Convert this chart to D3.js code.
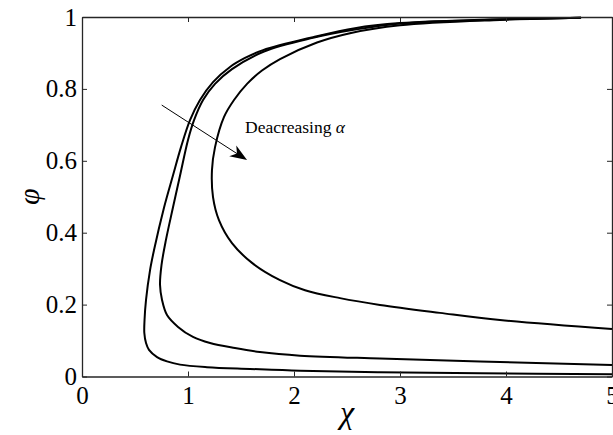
<!DOCTYPE html>
<html>
<head>
<meta charset="utf-8">
<script src="https://cdn.jsdelivr.net/npm/d3@7"></script>
<style>
  html, body { margin: 0; padding: 0; background: #fff; }
  svg { display: block; }
  text { font-family: "Liberation Serif", "DejaVu Serif", serif; fill: #000; }
</style>
</head>
<body>
<svg id="chart" width="613" height="435"></svg>
<script>
// Phase boundaries: [chi, phi] pairs
const curveOuter = [
  [4.708, 0.998], [3.943, 0.994], [3.000, 0.983], [2.575, 0.969], [2.179, 0.944],
  [1.708, 0.908], [1.538, 0.886], [1.396, 0.861], [1.236, 0.819], [1.113, 0.769],
  [1.019, 0.713], [0.934, 0.638], [0.858, 0.559], [0.774, 0.470], [0.679, 0.351],
  [0.642, 0.296], [0.604, 0.213], [0.590, 0.157], [0.588, 0.121], [0.604, 0.093],
  [0.632, 0.074], [0.708, 0.054], [0.802, 0.042], [0.925, 0.033], [1.179, 0.026],
  [1.585, 0.021], [2.057, 0.016], [2.811, 0.012], [3.755, 0.009], [5.000, 0.0064]
];
const curveMiddle = [
  [4.708, 0.998], [3.943, 0.993], [3.000, 0.982], [2.575, 0.965], [2.179, 0.942],
  [1.717, 0.904], [1.415, 0.855], [1.255, 0.814], [1.142, 0.769], [1.057, 0.713],
  [1.000, 0.658], [0.925, 0.559], [0.858, 0.470], [0.792, 0.380], [0.750, 0.310],
  [0.736, 0.255], [0.755, 0.213], [0.802, 0.171], [0.906, 0.138], [1.047, 0.110],
  [1.208, 0.093], [1.443, 0.079], [1.679, 0.068], [2.057, 0.058], [2.811, 0.050],
  [3.755, 0.042], [5.000, 0.032]
];
const curveInner = [
  [4.708, 0.998], [3.943, 0.992], [3.000, 0.977], [2.528, 0.955], [2.217, 0.929],
  [1.868, 0.883], [1.698, 0.851], [1.557, 0.814], [1.434, 0.769], [1.340, 0.722],
  [1.255, 0.638], [1.226, 0.574], [1.236, 0.499], [1.292, 0.435], [1.415, 0.371],
  [1.604, 0.316], [1.868, 0.268], [2.104, 0.240], [2.434, 0.218], [2.811, 0.199],
  [3.377, 0.177], [3.943, 0.157], [5.000, 0.132]
];
const curves = [curveOuter, curveMiddle, curveInner];

const xTicks = [0, 1, 2, 3, 4, 5];
const yTicks = [0, 0.2, 0.4, 0.6, 0.8, 1];
const yTickLabels = ["0", "0.2", "0.4", "0.6", "0.8", "1"];

// Annotation arrow: from -> to in data units
const arrowFrom = [0.752, 0.755];
const arrowTo = [1.557, 0.602];
const annotationText = "Deacreasing ";
const annotationSymbol = "α";

const margin = { left: 82, right: 1, top: 17, bottom: 58.5 };
const W = 613, H = 435;
const svg = d3.select("#chart");

const x = d3.scaleLinear().domain([0, 5]).range([margin.left, W - margin.right]);
const y = d3.scaleLinear().domain([0, 1]).range([H - margin.bottom, margin.top]);

const axisColor = "#262626";
const tickLen = 5;
const serif = "'Liberation Serif', 'DejaVu Serif', serif";

// Curves
const line = d3.line()
  .x(d => x(d[0]))
  .y(d => y(d[1]))
  .curve(d3.curveCatmullRom.alpha(0.5));

svg.append("g")
  .selectAll("path")
  .data(curves)
  .join("path")
  .attr("d", line)
  .attr("fill", "none")
  .attr("stroke", "#000")
  .attr("stroke-width", 2)
  .attr("stroke-linejoin", "round");

// Axes (box with inward ticks on all sides)
const bottomAxis = d3.axisBottom(x).tickValues(xTicks).tickSizeInner(-tickLen).tickSizeOuter(0).tickPadding(10).tickFormat(d3.format("d"));
const topAxis = d3.axisTop(x).tickValues(xTicks).tickSizeInner(-tickLen).tickSizeOuter(0).tickFormat("");
const leftAxis = d3.axisLeft(y).tickValues(yTicks).tickSizeInner(-tickLen).tickSizeOuter(0).tickPadding(5).tickFormat((d, i) => yTickLabels[i]);
const rightAxis = d3.axisRight(y).tickValues(yTicks).tickSizeInner(-tickLen).tickSizeOuter(0).tickFormat("");

function styleAxis(g) {
  g.attr("font-family", null).attr("font-size", null);
  g.select(".domain").attr("stroke", axisColor).attr("stroke-width", 1.3);
  g.selectAll(".tick line").attr("stroke", axisColor).attr("stroke-width", 1);
  g.selectAll(".tick text")
    .style("font-family", serif)
    .style("font-size", "25px")
    .attr("fill", "#000");
}

svg.append("g").attr("transform", `translate(0,${y(0)})`).call(bottomAxis).call(styleAxis);
svg.append("g").attr("transform", `translate(0,${y(1)})`).call(topAxis).call(styleAxis);
svg.append("g").attr("transform", `translate(${x(0)},0)`).call(leftAxis).call(styleAxis);
svg.append("g").attr("transform", `translate(${x(5)},0)`).call(rightAxis).call(styleAxis);

// Axis titles
svg.append("text")
  .attr("x", (x(0) + x(5)) / 2)
  .attr("y", 423)
  .attr("text-anchor", "middle")
  .style("font-family", serif)
  .style("font-style", "italic")
  .style("font-size", "32px")
  .text("χ");

svg.append("text")
  .attr("transform", `translate(39,${(y(0) + y(1)) / 2}) rotate(-90)`)
  .attr("text-anchor", "middle")
  .style("font-family", serif)
  .style("font-style", "italic")
  .style("font-size", "30px")
  .text("φ");

// Annotation arrow
const x0 = x(arrowFrom[0]), y0 = y(arrowFrom[1]);
const x1 = x(arrowTo[0]), y1 = y(arrowTo[1]);
const ang = Math.atan2(y1 - y0, x1 - x0);
const headLen = 17, headHalf = 6.5, backIn = 5;
const ux = Math.cos(ang), uy = Math.sin(ang);
const px = -uy, py = ux;
const bx = x1 - ux * headLen, by = y1 - uy * headLen;
const nx = x1 - ux * (headLen - backIn), ny = y1 - uy * (headLen - backIn);

svg.append("line")
  .attr("x1", x0).attr("y1", y0)
  .attr("x2", nx).attr("y2", ny)
  .attr("stroke", "#000")
  .attr("stroke-width", 1);

svg.append("path")
  .attr("d", `M${x1},${y1} L${bx + px * headHalf},${by + py * headHalf} L${nx},${ny} L${bx - px * headHalf},${by - py * headHalf} Z`)
  .attr("fill", "#000");

const ann = svg.append("text")
  .attr("x", 245)
  .attr("y", 133)
  .style("font-family", serif)
  .style("font-size", "17.5px");
ann.append("tspan").text(annotationText);
ann.append("tspan").style("font-style", "italic").text(annotationSymbol);
</script>
</body>
</html>
